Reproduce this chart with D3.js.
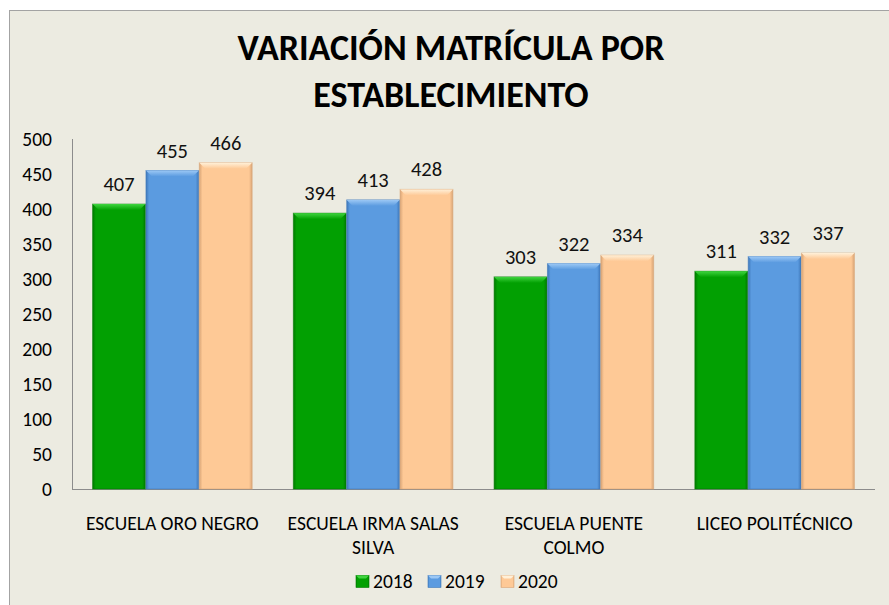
<!DOCTYPE html>
<html>
<head>
<meta charset="utf-8">
<script src="https://cdn.jsdelivr.net/npm/d3@7"></script>
<style>
  body { margin: 0; background: #fff; }
  svg { display: block; font-family: Carlito, Lato, "Open Sans", sans-serif; }
</style>
</head>
<body>
<div id="chart"></div>
<script>
// Chart data
const categories = ["ESCUELA ORO NEGRO", "ESCUELA IRMA SALAS SILVA", "ESCUELA PUENTE COLMO", "LICEO POLITÉCNICO"];
const categoryLines = [["ESCUELA ORO NEGRO"], ["ESCUELA IRMA SALAS", "SILVA"], ["ESCUELA PUENTE", "COLMO"], ["LICEO POLITÉCNICO"]];
const years = ["2018", "2019", "2020"];
const values2018 = [407, 394, 303, 311];
const values2019 = [455, 413, 322, 332];
const values2020 = [466, 428, 334, 337];
const yTicks = [0, 50, 100, 150, 200, 250, 300, 350, 400, 450, 500];

const seriesValues = [values2018, values2019, values2020];
const colors = {
    "2018": { base: "#02a002", light: "#3fd43f", dark: "#017a01" },
    "2019": { base: "#5b9be0", light: "#9cc8f5", dark: "#3f78ba" },
    "2020": { base: "#fec996", light: "#fff0d8", dark: "#d9a577" }
};

const width = 889, height = 605;
const margin = { left: 72, right: 14, top: 139, bottom: 116 };

const svg = d3.select("#chart").append("svg")
    .attr("width", width)
    .attr("height", height);

// background + frame
svg.append("rect")
    .attr("x", 9.5).attr("y", 10.5)
    .attr("width", width - 9).attr("height", height - 10)
    .attr("fill", "#ecebe1")
    .attr("stroke", "#a3a3a3");

// title
const title = svg.append("text")
    .attr("text-anchor", "middle")
    .attr("font-weight", "bold")
    .attr("font-size", 36)
    .attr("fill", "#000");
title.append("tspan").attr("x", 451).attr("y", 60).text("VARIACIÓN MATRÍCULA POR");
title.append("tspan").attr("x", 451).attr("y", 107).text("ESTABLECIMIENTO");

const x0 = d3.scaleBand()
    .domain(categories)
    .range([margin.left, width - margin.right])
    .paddingInner(0.2)
    .paddingOuter(0.1);

const x1 = d3.scaleBand()
    .domain(years)
    .range([0, x0.bandwidth()])
    .padding(0.01);

const y = d3.scaleLinear()
    .domain([0, 500])
    .range([height - margin.bottom, margin.top]);

// gradient defs
const defs = svg.append("defs");
years.forEach(yr => {
    const g = defs.append("linearGradient")
        .attr("id", "grad" + yr)
        .attr("x1", 0).attr("x2", 1).attr("y1", 0).attr("y2", 0);
    g.append("stop").attr("offset", "0%").attr("stop-color", colors[yr].dark);
    g.append("stop").attr("offset", "6%").attr("stop-color", colors[yr].base);
    g.append("stop").attr("offset", "94%").attr("stop-color", colors[yr].base);
    g.append("stop").attr("offset", "100%").attr("stop-color", colors[yr].dark);
    const t = defs.append("linearGradient")
        .attr("id", "top" + yr)
        .attr("x1", 0).attr("x2", 0).attr("y1", 0).attr("y2", 1);
    t.append("stop").attr("offset", "0%").attr("stop-color", colors[yr].light);
    t.append("stop").attr("offset", "100%").attr("stop-color", colors[yr].base);
});

// y axis tick labels
svg.append("g")
    .selectAll("text")
    .data(yTicks)
    .join("text")
    .attr("x", 52)
    .attr("y", d => y(d))
    .attr("dy", "0.35em")
    .attr("text-anchor", "end")
    .attr("font-size", 19.5)
    .attr("fill", "#000")
    .text(d => d);

// axis lines
svg.append("line")
    .attr("x1", margin.left + 0.5).attr("x2", margin.left + 0.5)
    .attr("y1", y(500)).attr("y2", y(0))
    .attr("stroke", "#8c8c8c");
svg.append("line")
    .attr("x1", margin.left).attr("x2", width - margin.right)
    .attr("y1", y(0) + 0.5).attr("y2", y(0) + 0.5)
    .attr("stroke", "#8c8c8c");

// bars
const groups = svg.append("g")
    .selectAll("g")
    .data(categories)
    .join("g")
    .attr("transform", d => `translate(${x0(d)},0)`);

groups.each(function(cat, ci) {
    const g = d3.select(this);
    years.forEach((yr, si) => {
        const v = seriesValues[si][ci];
        const bx = x1(yr), bw = x1.bandwidth();
        const by = y(v), bh = y(0) - y(v);
        g.append("rect")
            .attr("x", bx).attr("y", by)
            .attr("width", bw).attr("height", bh)
            .attr("fill", `url(#grad${yr})`)
            .attr("stroke", colors[yr].dark)
            .attr("stroke-opacity", 0.6)
            .attr("stroke-width", 1);
        // top bevel
        const bev = 6;
        g.append("path")
            .attr("d", `M${bx},${by} L${bx + bw},${by} L${bx + bw - bev},${by + bev} L${bx + bev},${by + bev} Z`)
            .attr("fill", `url(#top${yr})`);
        // value label
        g.append("text")
            .attr("x", bx + bw / 2)
            .attr("y", by - 13)
            .attr("text-anchor", "middle")
            .attr("font-size", 20.5)
            .attr("fill", "#111")
            .text(v);
    });
});

// category labels
categories.forEach((cat, ci) => {
    const t = svg.append("text")
        .attr("text-anchor", "middle")
        .attr("font-size", 19.5)
        .attr("fill", "#000");
    categoryLines[ci].forEach((line, li) => {
        t.append("tspan")
            .attr("x", x0(cat) + x0.bandwidth() / 2)
            .attr("y", 530 + li * 23.5)
            .text(line);
    });
});

// legend
const legend = svg.append("g");
const legendPos = [356, 428, 501];
years.forEach((yr, i) => {
    const gx = legendPos[i];
    legend.append("rect")
        .attr("x", gx).attr("y", 575.5)
        .attr("width", 13).attr("height", 12)
        .attr("fill", `url(#grad${yr})`)
        .attr("stroke", colors[yr].dark)
        .attr("stroke-width", 0.6);
    legend.append("path")
        .attr("d", `M${gx},${575.5} L${gx + 13},${575.5} L${gx + 10},${578.5} L${gx + 3},${578.5} Z`)
        .attr("fill", colors[yr].light);
    legend.append("text")
        .attr("x", gx + 17).attr("y", 588)
        .attr("font-size", 19.5)
        .attr("fill", "#000")
        .text(yr);
});
</script>
</body>
</html>
